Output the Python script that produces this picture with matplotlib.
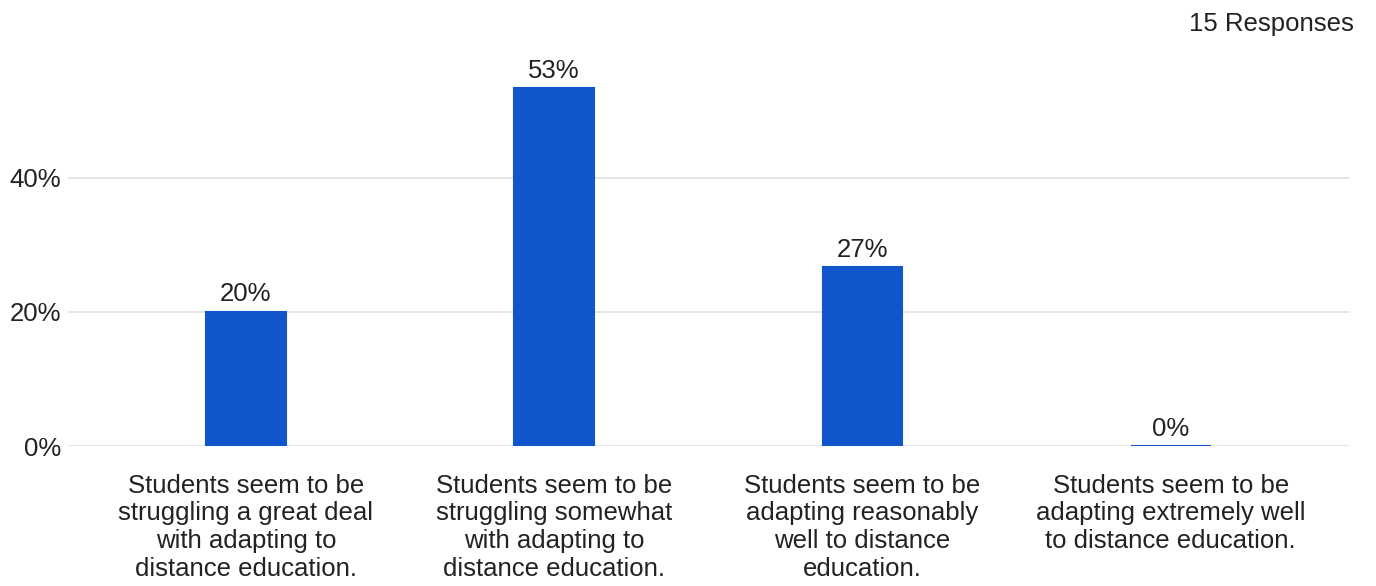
import numpy as np
import matplotlib.pyplot as plt

plt.rcParams['font.family'] = ['Liberation Sans', 'DejaVu Sans']

# survey answers (15 responses)
total = 15
counts = [3, 8, 4, 0]
categories = [
    'Students seem to be\nstruggling a great deal\nwith adapting to\ndistance education.',
    'Students seem to be\nstruggling somewhat\nwith adapting to\ndistance education.',
    'Students seem to be\nadapting reasonably\nwell to distance\neducation.',
    'Students seem to be\nadapting extremely well\nto distance education.',
]
yticks = [0, 20, 40]

pct = np.array(counts) / total * 100
x = np.arange(len(categories))

text_color = '#222222'
bar_color = '#1155cc'

fig = plt.figure(figsize=(13.76, 5.86), dpi=100)
ax = fig.add_axes([68 / 1376, 140 / 586, 1281 / 1376, 389.2 / 586])

ax.bar(x, pct, width=0.258, color=bar_color, edgecolor=bar_color, linewidth=1.5, zorder=3)

for xi, p in zip(x, pct):
    ax.annotate(f'{p:.0f}%', (xi, p), xytext=(0, 7.5), textcoords='offset points',
                ha='center', va='baseline', fontsize=18.5, color=text_color)

ax.set_xlim(-0.577, 3.578)
ax.set_ylim(0, 58)
ax.set_yticks(yticks)
ax.set_yticklabels([f'{t}%' for t in yticks])
ax.set_xticks(x)
ax.set_xticklabels(categories, linespacing=1.19)
ax.tick_params(axis='both', length=0, labelsize=18.5, labelcolor=text_color)
ax.tick_params(axis='x', pad=20)
ax.tick_params(axis='y', pad=5)
ax.yaxis.grid(True, color='#e0e0e0', linewidth=1.2, zorder=0)
ax.set_axisbelow(True)
for s in ax.spines.values():
    s.set_visible(False)

fig.text(1354 / 1376, (586 - 30.7) / 586, '15 Responses', ha='right', va='baseline',
         fontsize=18.5, color=text_color)

fig.savefig('out.png', dpi=100)
